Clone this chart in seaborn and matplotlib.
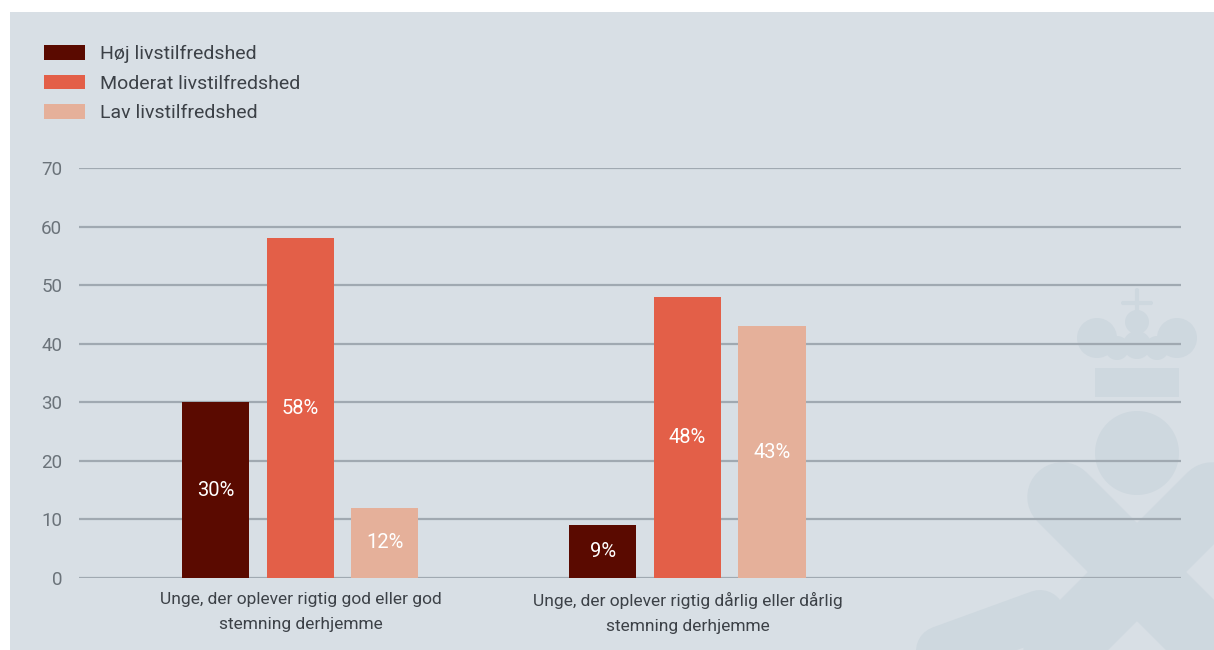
import matplotlib
matplotlib.use('Agg')
import matplotlib.pyplot as plt
from matplotlib.patches import Rectangle, Circle, Patch
import seaborn as sns
import pandas as pd

# data
categories = ['Unge, der oplever rigtig god eller god\nstemning derhjemme',
              'Unge, der oplever rigtig dårlig eller dårlig\nstemning derhjemme']
levels = ['Høj livstilfredshed', 'Moderat livstilfredshed', 'Lav livstilfredshed']
hoej = [30, 9]
moderat = [58, 48]
lav = [12, 43]
y_ticks = [0, 10, 20, 30, 40, 50, 60, 70]

colors = ['#5a0a00', '#e35f48', '#e5b09a']
bg = '#d8dfe5'
wm = '#ced8df'

rows = []
for i, cat in enumerate(categories):
    for lev, vals in zip(levels, [hoej, moderat, lav]):
        rows.append({'kategori': cat, 'niveau': lev, 'andel': vals[i]})
df = pd.DataFrame(rows)

sns.set_theme(style='white')
plt.rcParams['font.family'] = ['Roboto', 'DejaVu Sans']

fig = plt.figure(figsize=(12.14, 6.5), dpi=100)
fig.patch.set_facecolor('white')

# background layer in pixel coordinates: grey panel + faint crest watermark
deco = fig.add_axes([0, 0, 1, 1], zorder=-5)
deco.set_xlim(0, 1214)
deco.set_ylim(650, 0)
deco.set_aspect('equal')
deco.axis('off')
deco.add_patch(Rectangle((10, 12), 1204, 638, facecolor=bg, edgecolor='none'))
# X
deco.plot([1062, 1260], [497, 695], color=wm, lw=50, solid_capstyle='round')
deco.plot([1212, 1000], [497, 709], color=wm, lw=50, solid_capstyle='round')
deco.plot([930, 1040], [655, 615], color=wm, lw=36, solid_capstyle='round')
# ball
deco.add_patch(Circle((1137, 453), 42, facecolor=wm, edgecolor='none'))
# crown
deco.add_patch(Rectangle((1095, 368), 84, 29, facecolor=wm, edgecolor='none'))
for cx, cy, r in [(1097, 338, 20), (1177, 338, 20), (1117, 348, 12),
                  (1157, 348, 12), (1137, 345, 14), (1137, 322, 12)]:
    deco.add_patch(Circle((cx, cy), r, facecolor=wm, edgecolor='none'))
deco.plot([1137, 1137], [290, 315], color=wm, lw=3)
deco.plot([1123, 1151], [303, 303], color=wm, lw=3)

ax = fig.add_axes([79 / 1214, 1 - 578 / 650, 1102 / 1214, 410 / 650])
ax.set_facecolor('none')

sns.barplot(data=df, x='kategori', y='andel', hue='niveau', hue_order=levels,
            palette=colors, width=0.655, gap=0.207, saturation=1,
            linewidth=0, ax=ax, zorder=3, legend=True)

for cont in ax.containers:
    ax.bar_label(cont, labels=[f'{int(v)}%' for v in cont.datavalues],
                 label_type='center', color='white', fontsize=14.5)

ax.set_ylim(0, 70)
ax.set_xlim(-0.572, 2.275)
ax.set_yticks(y_ticks)
ax.yaxis.grid(True, color='#a0a9b1', linewidth=1.6, zorder=0)
ax.set_axisbelow(True)
ax.tick_params(axis='y', length=0, pad=12, labelsize=13.5, labelcolor='#6b737a')
ax.tick_params(axis='x', length=0, pad=10, labelsize=12.5, labelcolor='#3c4147')
for lab in ax.get_xticklabels():
    lab.set_linespacing(1.85)
ax.set_xlabel('')
ax.set_ylabel('')
sns.despine(ax=ax, left=True, bottom=True, top=True, right=True)

# legend in the top left corner
ax.get_legend().remove()
handles = [Patch(facecolor=c, edgecolor='none') for c in colors]
leg = fig.legend(handles, levels, loc='upper left',
                 bbox_to_anchor=(44 / 1214, 1 - 45 / 650),
                 frameon=False, fontsize=14, borderpad=0, borderaxespad=0,
                 handlelength=2.1, handleheight=0.77, handletextpad=0.77,
                 labelspacing=0.6)
for t in leg.get_texts():
    t.set_color('#3c4147')

fig.savefig('out.png', dpi=100)
